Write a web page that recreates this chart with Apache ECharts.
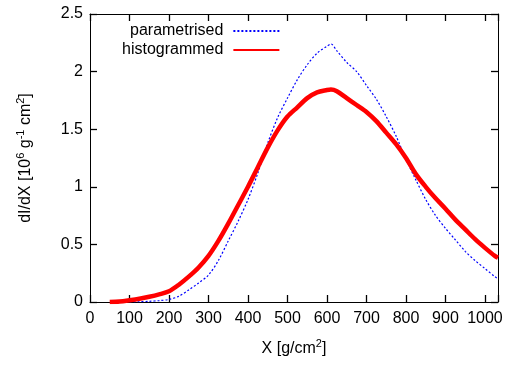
<!DOCTYPE html>
<html>
<head>
<meta charset="utf-8">
<script src="https://cdn.jsdelivr.net/npm/echarts@6/dist/echarts.min.js"></script>
<style>html,body{margin:0;padding:0;background:#fff;}#c{width:507px;height:365px;}</style>
</head>
<body>
<div id="c"></div>
<script>
// Histogrammed (red) curve
const histX = [50,75,100,125,150,175,200,225,250,275,300,325,350,375,400,425,450,475,500,525,550,575,600,610,625,650,675,700,725,750,775,800,825,850,875,900,925,950,975,1000,1025,1033];
const histY = [0,0.004,0.015,0.028,0.045,0.066,0.093,0.15,0.22,0.30,0.40,0.53,0.68,0.84,1.0,1.17,1.34,1.49,1.61,1.69,1.77,1.82,1.84,1.845,1.83,1.77,1.71,1.65,1.57,1.47,1.37,1.25,1.11,1.0,0.9,0.81,0.715,0.63,0.545,0.47,0.40,0.385];
// Parametrised (blue) curve
const paramX = [100,125,150,175,200,225,250,275,300,325,350,375,400,425,450,475,500,525,550,575,600,610,625,650,675,700,725,750,775,800,825,850,875,900,925,950,975,1000,1025,1033];
const paramY = [0,0.002,0.006,0.012,0.022,0.05,0.105,0.165,0.234,0.36,0.53,0.70,0.89,1.12,1.38,1.6,1.77,1.93,2.06,2.16,2.22,2.24,2.18,2.08,2.0,1.88,1.76,1.61,1.44,1.24,1.06,0.89,0.75,0.64,0.54,0.44,0.36,0.29,0.22,0.2];
const xTicks = [0,100,200,300,400,500,600,700,800,900,1000];
const yTicks = ['0','0.5','1','1.5','2','2.5'];

const FONT = 'Liberation Sans';
const pair = (xs, ys) => xs.map((x, i) => [x, ys[i]]);
const supRich = {sup: {fontFamily: FONT, fontSize: 11, lineHeight: 11, verticalAlign: 'top', color: '#000'}};

const chart = echarts.init(document.getElementById('c'));
function axisLine() { return {show: true, onZero: false, lineStyle: {color: '#000', width: 1}}; }
function tick() { return {show: true, inside: true, length: 7, lineStyle: {color: '#000', width: 1.3}}; }
chart.setOption({
  animation: false,
  grid: {left: 90, right: 9, top: 14, bottom: 56},
  legend: {
    orient: 'vertical', align: 'right', left: 122, top: 23, padding: 0, itemGap: 3,
    itemWidth: 46, itemHeight: 14,
    itemStyle: {opacity: 0},
    textStyle: {fontFamily: FONT, fontSize: 16, color: '#000', padding: [0, 5, 0, 0]},
    data: ['parametrised', 'histogrammed']
  },
  xAxis: [{
    type: 'value', min: 0, max: 1033, interval: 100, position: 'bottom',
    axisLine: axisLine(), axisTick: tick(), splitLine: {show: false},
    axisLabel: {fontFamily: FONT, fontSize: 16, color: '#000', margin: 9,
      formatter: v => xTicks.indexOf(v) >= 0 ? String(v) : ''},
    name: 'X [g/cm{sup|2}]', nameLocation: 'middle', nameGap: 36,
    nameTextStyle: {fontFamily: FONT, fontSize: 16, color: '#000', lineHeight: 22, rich: supRich}
  }, {
    type: 'value', min: 0, max: 1033, interval: 100, position: 'top',
    axisLine: axisLine(), axisTick: tick(), splitLine: {show: false}, axisLabel: {show: false}
  }],
  yAxis: [{
    type: 'value', min: 0, max: 2.5, interval: 0.5, position: 'left',
    axisLine: axisLine(), axisTick: tick(), splitLine: {show: false},
    axisLabel: {fontFamily: FONT, fontSize: 16, color: '#000', margin: 7,
      formatter: v => { const s = String(v); return yTicks.indexOf(s) >= 0 ? s : ''; }},
    name: 'dI/dX [10{sup|6} g{sup|-1} cm{sup|2}]', nameLocation: 'middle', nameGap: 53, nameRotate: 90,
    nameTextStyle: {fontFamily: FONT, fontSize: 16, color: '#000', lineHeight: 22, rich: supRich}
  }, {
    type: 'value', min: 0, max: 2.5, interval: 0.5, position: 'right',
    axisLine: axisLine(), axisTick: tick(), splitLine: {show: false}, axisLabel: {show: false}
  }],
  series: [{
    name: 'parametrised', type: 'line', xAxisIndex: 0, yAxisIndex: 0,
    data: pair(paramX, paramY), showSymbol: false, symbol: 'none', smooth: 0.3,
    lineStyle: {color: '#0000ff', width: 1.2, type: [2, 2]}, itemStyle: {color: '#0000ff'}
  }, {
    name: 'histogrammed', type: 'line', xAxisIndex: 0, yAxisIndex: 0,
    data: pair(histX, histY), showSymbol: false, symbol: 'none', smooth: 0.3,
    lineStyle: {color: '#ff0000', width: 4.5}, itemStyle: {color: '#ff0000'}
  }]
});
</script>
</body>
</html>
